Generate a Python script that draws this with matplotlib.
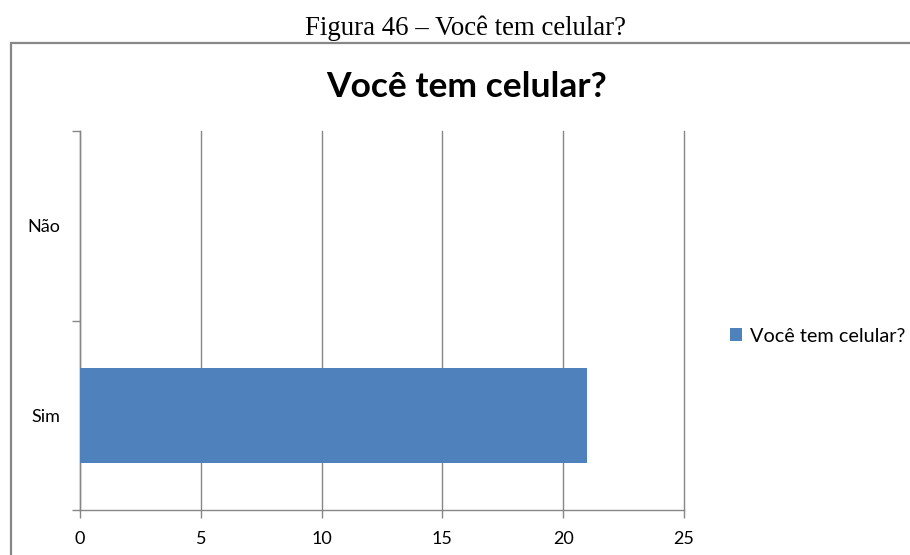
import matplotlib
matplotlib.use('Agg')
import matplotlib.pyplot as plt
from matplotlib.patches import Rectangle

categories = ['Sim', 'Não']
values = [21, 0]
series_name = 'Você tem celular?'
xticks = [0, 5, 10, 15, 20, 25]

fig = plt.figure(figsize=(9.1, 5.55), dpi=100)
fig.patch.set_facecolor('white')

# caption above the chart box
fig.text(466 / 910, 1 - 35 / 555, 'Figura 46 – Você tem celular?', ha='center', va='baseline',
         fontsize=19.4, family='Liberation Serif')

# chart border (cropped at right and bottom)
fig.add_artist(Rectangle((11 / 910, -0.1), 1.2, 1 - 43 / 555 + 0.1, transform=fig.transFigure,
                         fill=False, edgecolor='#878787', linewidth=1.6))

fig.text(466.5 / 910, 1 - 97 / 555, 'Você tem celular?', ha='center', va='baseline',
         fontsize=25.5, fontweight='bold', family='Lato')

ax = fig.add_axes([80 / 910, 1 - 510 / 555, 604 / 910, 379 / 555])
pos = list(range(len(categories)))
bars = ax.barh(pos, values, height=0.5, color='#4F81BD', label=series_name, zorder=3)

ax.set_xlim(0, 25)
ax.set_ylim(-0.5, len(categories) - 0.5)
ax.set_xticks(xticks)
ax.set_xticklabels([str(t) for t in xticks], family='Lato', fontsize=13)
ax.tick_params(axis='x', length=6, width=1, color='#878787', pad=9)

ax.set_yticks([-0.5, 0.5, 1.5])
ax.set_yticklabels([])
ax.set_yticks(pos, minor=True)
ax.set_yticklabels(categories, minor=True, family='Lato', fontsize=13)
ax.tick_params(axis='y', which='major', length=6, width=1, color='#878787')
ax.tick_params(axis='y', which='minor', length=0, pad=14)

ax.grid(axis='x', color='#878787', linewidth=1, zorder=0)
for gl in ax.get_xgridlines():
    gl.set_clip_on(False)
for s in ['top', 'right']:
    ax.spines[s].set_visible(False)
for s in ['left', 'bottom']:
    ax.spines[s].set_color('#878787')
    ax.spines[s].set_linewidth(1)

fig.legend(handles=[bars], labels=[series_name], loc='center left',
           bbox_to_anchor=(720 / 910, 1 - 336 / 555), frameon=False,
           prop={'family': 'Lato', 'size': 14.3}, handlelength=0.6, handleheight=0.6,
           handletextpad=0.4, borderpad=0)

fig.savefig('out.png', dpi=100)
